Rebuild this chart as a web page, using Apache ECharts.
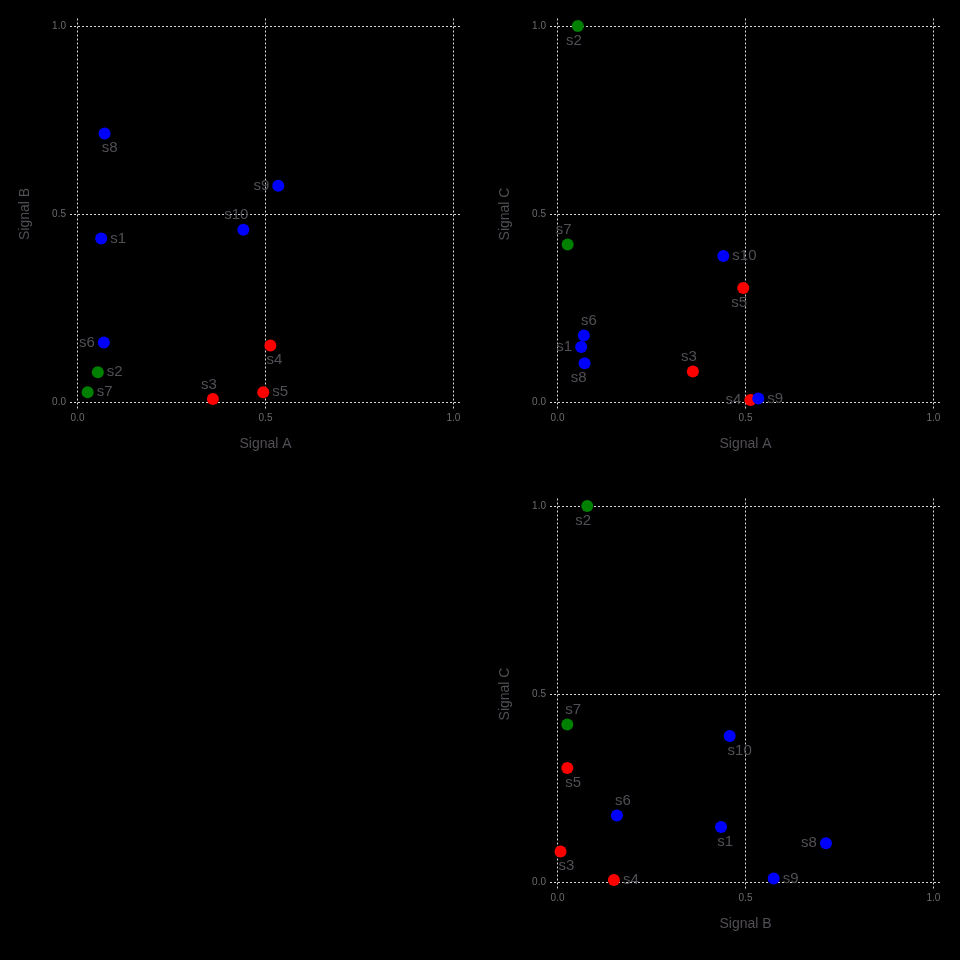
<!DOCTYPE html>
<html>
<head>
<meta charset="utf-8">
<style>
  html, body { margin: 0; padding: 0; background: #000; }
  #chart { width: 960px; height: 960px; }
</style>
<script src="https://cdn.jsdelivr.net/npm/echarts@6/dist/echarts.min.js"></script>
</head>
<body>
<div id="chart"></div>
<script>
// samples and their three signals
const names = ['s1', 's2', 's3', 's4', 's5', 's6', 's7', 's8', 's9', 's10']
const signalA = [0.063, 0.054, 0.360, 0.513, 0.494, 0.070, 0.027, 0.072, 0.534, 0.441]
const signalB = [0.435, 0.079, 0.008, 0.150, 0.026, 0.158, 0.026, 0.714, 0.575, 0.458]
const signalC = [0.146, 1.000, 0.081, 0.005, 0.303, 0.177, 0.419, 0.103, 0.009, 0.388]
const groups = ['blue', 'green', 'red', 'red', 'red', 'blue', 'green', 'blue', 'blue', 'blue']
const tickValues = [0, 0.5, 1]
const tickLabels = ['0.0', '0.5', '1.0']

const groupColors = { blue: '#0000ff', green: '#008000', red: '#ff0000' }

// label placement per panel: [position, dx]
const labelsAB = [['right', 0], ['right', 0], ['top', -4], ['bottom', 4], ['right', 0],
  ['left', 0], ['right', 0], ['bottom', 5], ['left', 0], ['top', -7]]
const labelsAC = [['left', 0], ['bottom', -4], ['top', -4], ['left', 0], ['bottom', -4],
  ['top', 5], ['top', -4], ['bottom', -6], ['right', 0], ['right', 0]]
const labelsBC = [['bottom', 4], ['bottom', -4], ['bottom', 6], ['right', 0], ['bottom', 6],
  ['top', 6], ['top', 6], ['left', 0], ['right', 0], ['bottom', 10]]

const panels = [
  { x: signalA, y: signalB, xName: 'Signal A', yName: 'Signal B', left: 70, top: 18.5, labels: labelsAB },
  { x: signalA, y: signalC, xName: 'Signal A', yName: 'Signal C', left: 550, top: 18.5, labels: labelsAC },
  { x: signalB, y: signalC, xName: 'Signal B', yName: 'Signal C', left: 550, top: 498.5, labels: labelsBC }
]

const textColor = '#524e55'
const tickColor = '#6e6a70'
const font = 'Liberation Sans, Arial, sans-serif'

function axisOf(name, gridIndex, isY) {
  return {
    type: 'value',
    gridIndex: gridIndex,
    min: -0.02,
    max: 1.02,
    name: name,
    nameLocation: 'middle',
    nameGap: isY ? 38 : 28,
    nameTextStyle: { color: textColor, fontSize: 14, fontFamily: font },
    axisLine: { show: false },
    axisTick: { show: false, customValues: tickValues },
    axisLabel: {
      customValues: tickValues,
      margin: 4,
      color: tickColor,
      fontSize: 10,
      fontFamily: font,
      formatter: (v) => tickLabels[tickValues.indexOf(v)] || v.toFixed(1)
    },
    splitLine: { show: true, lineStyle: { color: '#d8d8d8', width: 1, type: [2, 2] } }
  }
}

const grid = []
const xAxis = []
const yAxis = []
const series = []

panels.forEach((p, i) => {
  grid.push({ left: p.left, top: p.top, width: 391, height: 391 })
  xAxis.push(axisOf(p.xName, i, false))
  yAxis.push(axisOf(p.yName, i, true))
  series.push({
    type: 'scatter',
    xAxisIndex: i,
    yAxisIndex: i,
    symbolSize: 12,
    clip: false,
    itemStyle: { opacity: 1 },
    data: names.map((n, k) => ({
      name: n,
      value: [p.x[k], p.y[k]],
      itemStyle: { color: groupColors[groups[k]], opacity: 1 },
      label: {
        show: true,
        formatter: n,
        position: p.labels[k][0],
        offset: [p.labels[k][1], 0],
        distance: p.labels[k][0] === 'left' || p.labels[k][0] === 'right' ? 3 : 1
      }
    })),
    label: {
      color: textColor,
      fontSize: 15,
      fontFamily: font
    },
    emphasis: { disabled: true }
  })
})

const chart = echarts.init(document.getElementById('chart'))
chart.setOption({
  backgroundColor: '#000',
  animation: false,
  grid: grid,
  xAxis: xAxis,
  yAxis: yAxis,
  series: series
})
</script>
</body>
</html>
